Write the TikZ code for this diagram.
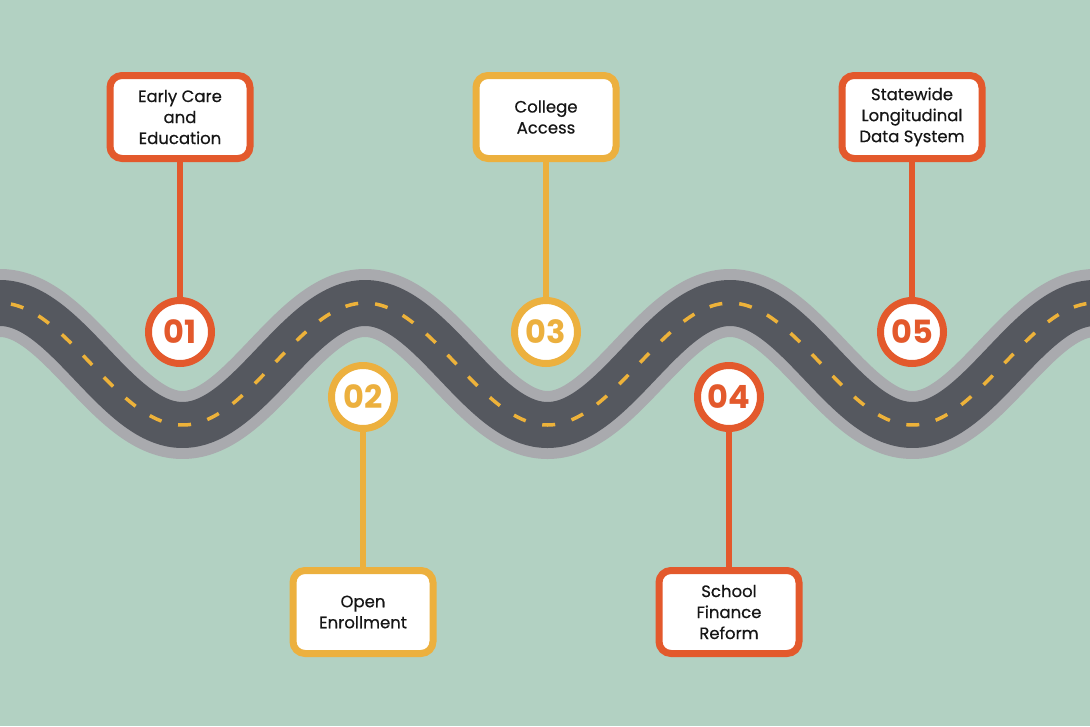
\documentclass[tikz,border=0pt]{standalone}
\usepackage{fontspec}
\setmainfont{Poppins}
\newfontfamily\labelfont{Poppins}[FakeBold=0.5]
\usetikzlibrary{positioning}

\definecolor{bgcol}{HTML}{B2D1C2}
\definecolor{roadedge}{HTML}{A9AAAE}
\definecolor{roaddark}{HTML}{55585F}
\definecolor{laneline}{HTML}{EDB23A}
\definecolor{redstop}{HTML}{E3592C}
\definecolor{yelstop}{HTML}{ECB03E}
\definecolor{inktext}{HTML}{161616}

\begin{document}
\begin{tikzpicture}[
  x=1pt, y=-1pt,
  box/.style={draw, fill=white, line width=7pt, rounded corners=12pt,
              minimum width=140pt, minimum height=83pt, inner sep=0pt,
              outer sep=0pt, align=center, text=inktext,
              font=\labelfont\fontsize{16.5}{21}\selectfont},
  stop/.style={circle, draw, fill=white, line width=7pt, minimum size=63pt,
               inner sep=0pt, outer sep=0pt,
               font=\fontsize{32}{32}\selectfont\bfseries},
  stem/.style={line width=6pt},
]
% background
\fill[bgcol] (0,0) rectangle (1090,726);
\useasboundingbox (0,0) rectangle (1090,726);

% road
\draw[roadedge, line width=68pt]
  plot[domain=-40:1130, samples=240, smooth] (\x, {364-61*cos((\x/365)*360)});
\draw[roaddark, line width=46pt]
  plot[domain=-40:1130, samples=240, smooth] (\x, {364-61*cos((\x/365)*360)});
\draw[laneline, line width=3.5pt, dash pattern=on 13pt off 17pt, dash phase=6pt]
  plot[domain=-40:1130, samples=240, smooth] (\x, {364-61*cos((\x/365)*360)});

% 01
\node[stop, draw=redstop, text=redstop] (n1) at (180, 332) {01};
\node[box, draw=redstop] (b1) at (180, 117) {Early Care\\and\\Education};
\draw[stem, redstop] (n1) -- (b1);

% 02
\node[stop, draw=yelstop, text=yelstop] (n2) at (363, 397) {02};
\node[box, draw=yelstop] (b2) at (363, 612) {Open\\Enrollment};
\draw[stem, yelstop] (n2) -- (b2);

% 03
\node[stop, draw=yelstop, text=yelstop] (n3) at (546, 332) {03};
\node[box, draw=yelstop] (b3) at (546, 117) {College\\Access};
\draw[stem, yelstop] (n3) -- (b3);

% 04
\node[stop, draw=redstop, text=redstop] (n4) at (729, 397) {04};
\node[box, draw=redstop] (b4) at (729, 612) {School\\Finance\\Reform};
\draw[stem, redstop] (n4) -- (b4);

% 05
\node[stop, draw=redstop, text=redstop] (n5) at (912, 332) {05};
\node[box, draw=redstop] (b5) at (912, 117) {Statewide\\Longitudinal\\Data System};
\draw[stem, redstop] (n5) -- (b5);
\end{tikzpicture}
\end{document}
